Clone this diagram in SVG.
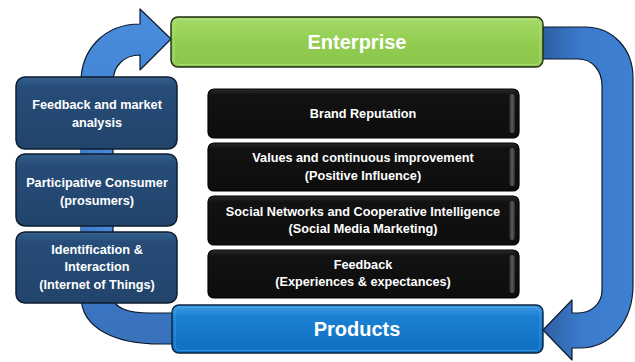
<svg xmlns="http://www.w3.org/2000/svg" width="635" height="362" viewBox="0 0 635 362">
  <defs>
    <linearGradient id="gArrowL" x1="0" y1="0" x2="0" y2="1">
      <stop offset="0" stop-color="#4a8ddb"/>
      <stop offset="0.6" stop-color="#3b7bcf"/>
      <stop offset="1" stop-color="#3a72bb"/>
    </linearGradient>
    <linearGradient id="gArrowR" gradientUnits="userSpaceOnUse" x1="540" y1="0" x2="635" y2="0">
      <stop offset="0" stop-color="#2c5d9f"/>
      <stop offset="0.45" stop-color="#3b7bcc"/>
      <stop offset="1" stop-color="#3f80d2"/>
    </linearGradient>
    <linearGradient id="gGreen" x1="0" y1="0" x2="0" y2="1">
      <stop offset="0" stop-color="#a6da68"/>
      <stop offset="0.5" stop-color="#92cd51"/>
      <stop offset="1" stop-color="#8ac64a"/>
    </linearGradient>
    <linearGradient id="gBlue" x1="0" y1="0" x2="0" y2="1">
      <stop offset="0" stop-color="#3f9ce6"/>
      <stop offset="0.25" stop-color="#1a7fd2"/>
      <stop offset="1" stop-color="#0f6fc2"/>
    </linearGradient>
    <linearGradient id="gNavy" x1="0" y1="0" x2="0" y2="1">
      <stop offset="0" stop-color="#34608f"/>
      <stop offset="0.15" stop-color="#264c77"/>
      <stop offset="1" stop-color="#22446b"/>
    </linearGradient>
    <linearGradient id="gBlack" x1="0" y1="0" x2="0" y2="1">
      <stop offset="0" stop-color="#2a2a2a"/>
      <stop offset="0.12" stop-color="#121212"/>
      <stop offset="1" stop-color="#0d0d0d"/>
    </linearGradient>
    <linearGradient id="gGloss" x1="0" y1="0" x2="1" y2="0">
      <stop offset="0" stop-color="#1a1a1a"/>
      <stop offset="0.5" stop-color="#5e5e5e"/>
      <stop offset="1" stop-color="#2a2a2a"/>
    </linearGradient>
    <linearGradient id="gLink" x1="0" y1="0" x2="1" y2="0">
      <stop offset="0" stop-color="#3d7ccc"/>
      <stop offset="1" stop-color="#4a8ad8"/>
    </linearGradient>
  </defs>
  <style>
    .arrow { stroke: #0c1a2c; stroke-width: 1.2; stroke-linejoin: round; }
    .side rect { fill: url(#gNavy); stroke: #0e1d31; stroke-width: 1.5; }
    .item rect.body { fill: url(#gBlack); stroke: #000; stroke-width: 1.2; }
    .item rect.gloss { fill: url(#gGloss); }
    .lbl { font-family: "Liberation Sans", Arial, sans-serif; font-weight: bold; fill: #ffffff; text-anchor: middle; }
    .small { font-size: 12.7px; }
    .big { font-size: 20px; }
  </style>

  <!-- connectors: the two curved loop arrows -->
  <g id="connectors">
    <path id="arrow-left" class="arrow" fill="url(#gArrowL)"
      d="M 185,313 L 150,313 C 128,313 113,308 113,296 L 113,82 C 113,66 124,55 140,55 L 140,70 L 171,39 L 140,9 L 140,24 C 104,24 81,50 81,82 L 81,296 C 81,330 118,344 160,344 L 185,344 Z"/>
    <path id="arrow-right" class="arrow" fill="url(#gArrowR)"
      d="M 535,27 L 585,27 C 612,27 633,48 633,78 L 633,285 C 633,322 610,348 580,348 L 572,348 L 572,360 L 543,330 L 572,300 L 572,313 L 578,313 C 592,313 602,303 602,290 L 602,86 C 602,70 592,59 578,59 L 535,59 Z"/>
    <!-- shaft segments visible between the side boxes -->
    <rect x="81" y="148" width="31" height="8" fill="url(#gLink)"/>
    <rect x="81" y="225" width="31" height="8" fill="url(#gLink)"/>
  </g>

  <!-- top node -->
  <g id="enterprise">
    <rect x="171" y="17" width="372" height="50" rx="7" fill="url(#gGreen)" stroke="#1f2b12" stroke-width="1.4"/>
    <rect x="174" y="19.5" width="366" height="45" rx="5" fill="none" stroke="#b9e48a" stroke-width="1" opacity="0.7"/>
    <text class="lbl big" x="357" y="49">Enterprise</text>
  </g>

  <!-- bottom node -->
  <g id="products">
    <rect x="172" y="305" width="371" height="48" rx="7" fill="url(#gBlue)" stroke="#0a2440" stroke-width="1.4"/>
    <rect x="175" y="307.5" width="365" height="43" rx="5" fill="none" stroke="#5fb0ee" stroke-width="1" opacity="0.5"/>
    <text class="lbl big" x="357" y="336">Products</text>
  </g>

  <!-- left column -->
  <g id="side-feedback" class="side">
    <rect x="16" y="77" width="161" height="72" rx="9"/>
    <text class="lbl small" x="97" y="109">Feedback and market</text>
    <text class="lbl small" x="97" y="127">analysis</text>
  </g>
  <g id="side-prosumers" class="side">
    <rect x="16" y="154" width="161" height="72" rx="9"/>
    <text class="lbl small" x="97" y="187">Participative Consumer</text>
    <text class="lbl small" x="97" y="205">(prosumers)</text>
  </g>
  <g id="side-iot" class="side">
    <rect x="16" y="232" width="161" height="71" rx="9"/>
    <text class="lbl small" x="97" y="254">Identification &amp;</text>
    <text class="lbl small" x="97" y="271">Interaction</text>
    <text class="lbl small" x="97" y="289">(Internet of Things)</text>
  </g>

  <!-- centre stack -->
  <g id="item-brand" class="item">
    <rect class="body" x="208" y="89" width="311" height="49" rx="6"/>
    <rect class="gloss" x="509" y="94" width="6" height="39" rx="3"/>
    <text class="lbl small" x="363" y="118">Brand Reputation</text>
  </g>
  <g id="item-values" class="item">
    <rect class="body" x="208" y="143" width="311" height="48" rx="6"/>
    <rect class="gloss" x="509" y="148" width="6" height="38" rx="3"/>
    <text class="lbl small" x="363" y="162">Values and continuous improvement</text>
    <text class="lbl small" x="363" y="180">(Positive Influence)</text>
  </g>
  <g id="item-social" class="item">
    <rect class="body" x="208" y="196" width="311" height="49" rx="6"/>
    <rect class="gloss" x="509" y="201" width="6" height="39" rx="3"/>
    <text class="lbl small" x="363" y="216">Social Networks and Cooperative Intelligence</text>
    <text class="lbl small" x="363" y="233">(Social Media Marketing)</text>
  </g>
  <g id="item-feedback" class="item">
    <rect class="body" x="208" y="250" width="311" height="48" rx="6"/>
    <rect class="gloss" x="509" y="255" width="6" height="38" rx="3"/>
    <text class="lbl small" x="363" y="269">Feedback</text>
    <text class="lbl small" x="363" y="286">(Experiences &amp; expectances)</text>
  </g>
</svg>
